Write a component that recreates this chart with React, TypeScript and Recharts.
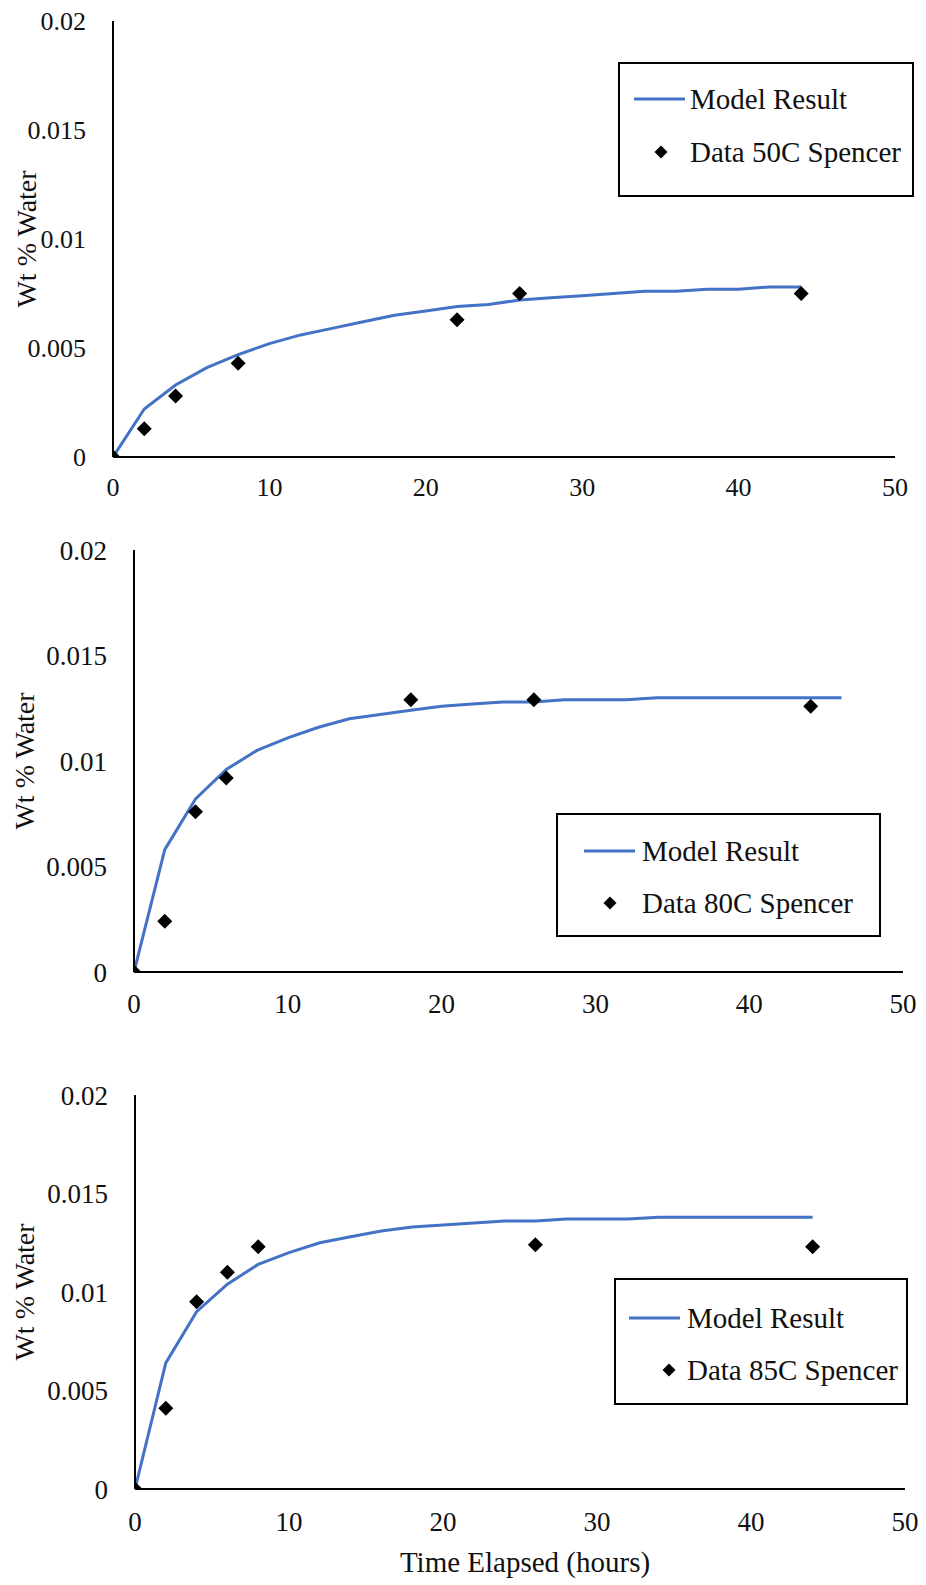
import React from 'react';
import { ComposedChart, Line, Scatter, XAxis, YAxis, Legend, Label } from 'recharts';

const xTicks = [0, 10, 20, 30, 40, 50];
const yTicks = [0, 0.005, 0.01, 0.015, 0.02];

const model50Hours = [0, 2, 4, 6, 8, 10, 12, 14, 16, 18, 20, 22, 24, 26, 28, 30, 32, 34, 36, 38, 40, 42, 44];
const model50 = [0, 0.0022, 0.0033, 0.0041, 0.0047, 0.0052, 0.0056, 0.0059, 0.0062, 0.0065, 0.0067, 0.0069, 0.007, 0.0072, 0.0073, 0.0074, 0.0075, 0.0076, 0.0076, 0.0077, 0.0077, 0.0078, 0.0078];
const model80Hours = [0, 2, 4, 6, 8, 10, 12, 14, 16, 18, 20, 22, 24, 26, 28, 30, 32, 34, 36, 38, 40, 42, 44, 46];
const model80 = [0, 0.0058, 0.0082, 0.0096, 0.0105, 0.0111, 0.0116, 0.012, 0.0122, 0.0124, 0.0126, 0.0127, 0.0128, 0.0128, 0.0129, 0.0129, 0.0129, 0.013, 0.013, 0.013, 0.013, 0.013, 0.013, 0.013];
const model85Hours = [0, 2, 4, 6, 8, 10, 12, 14, 16, 18, 20, 22, 24, 26, 28, 30, 32, 34, 36, 38, 40, 42, 44];
const model85 = [0, 0.0064, 0.009, 0.0104, 0.0114, 0.012, 0.0125, 0.0128, 0.0131, 0.0133, 0.0134, 0.0135, 0.0136, 0.0136, 0.0137, 0.0137, 0.0137, 0.0138, 0.0138, 0.0138, 0.0138, 0.0138, 0.0138];

const data50Hours = [0, 2, 4, 8, 22, 26, 44];
const data50 = [0, 0.0013, 0.0028, 0.0043, 0.0063, 0.0075, 0.0075];
const data80Hours = [0, 2, 4, 6, 18, 26, 44];
const data80 = [0, 0.0024, 0.0076, 0.0092, 0.0129, 0.0129, 0.0126];
const data85Hours = [0, 2, 4, 6, 8, 26, 44];
const data85 = [0, 0.0041, 0.0095, 0.011, 0.0123, 0.0124, 0.0123];

const FONT = '"Liberation Serif", "Times New Roman", serif';
const BLUE = '#4472C4';

const zip = (xs: number[], ys: number[]) => xs.map((x, i) => ({ x, y: ys[i] }));

const Diamond = (props: any) => {
  const { cx, cy } = props;
  const r = 7.5;
  return <polygon points={`${cx},${cy - r} ${cx + r},${cy} ${cx},${cy + r} ${cx - r},${cy}`} fill="#000" />;
};

type Cfg = {
  top: number;
  height: number;
  marginTop: number;
  yAxisWidth: number;
  marginRight: number;
  xAxisHeight: number;
  xTickMargin: number;
  tickFont: number;
  titleX: number;
  modelX: number[];
  model: number[];
  dataX: number[];
  dataY: number[];
  dataName: string;
  legend: { left: number; top: number; width: number; height: number; lineX: number; row1: number; row2: number; textX: number; diamondX: number };
  showXTitle?: boolean;
};

const LegendBox = ({ cfg }: { cfg: Cfg }) => {
  const L = cfg.legend;
  return (
    <div style={{ position: 'relative', width: L.width, height: L.height, border: '2px solid #000', boxSizing: 'border-box', background: '#fff', fontFamily: FONT, fontSize: 29, color: '#111' }}>
      <svg style={{ position: 'absolute', left: 0, top: 0 }} width={L.width} height={L.height}>
        <line x1={L.lineX} x2={L.lineX + 51} y1={L.row1} y2={L.row1} stroke={BLUE} strokeWidth={3} />
        <polygon points={`${L.diamondX},${L.row2 - 6.5} ${L.diamondX + 6.5},${L.row2} ${L.diamondX},${L.row2 + 6.5} ${L.diamondX - 6.5},${L.row2}`} fill="#000" />
      </svg>
      <div style={{ position: 'absolute', left: L.textX, top: L.row1 - 17, lineHeight: '34px', whiteSpace: 'nowrap', fontFamily: FONT }}>Model Result</div>
      <div style={{ position: 'absolute', left: L.textX, top: L.row2 - 17, lineHeight: '34px', whiteSpace: 'nowrap', fontFamily: FONT }}>{cfg.dataName}</div>
    </div>
  );
};

const YTitle = (props: any) => {
  const { viewBox, cx } = props;
  const y = viewBox.y + viewBox.height / 2;
  return (
    <text x={cx} y={y} transform={`rotate(-90, ${cx}, ${y})`} textAnchor="middle" dominantBaseline="central" fontFamily={FONT} fontSize={28} fill="#111">
      Wt % Water
    </text>
  );
};

const XTitle = (props: any) => {
  const { viewBox } = props;
  const x = viewBox.x + viewBox.width / 2 + 5;
  return (
    <text x={x} y={viewBox.y + 73} textAnchor="middle" dominantBaseline="central" fontFamily={FONT} fontSize={29} fill="#111">
      Time Elapsed (hours)
    </text>
  );
};

const Panel = ({ cfg }: { cfg: Cfg }) => {
  const lineData = zip(cfg.modelX, cfg.model);
  const pts = zip(cfg.dataX, cfg.dataY);
  const tickStyle = { fontFamily: FONT, fontSize: cfg.tickFont, fill: '#111' };
  return (
    <div style={{ position: 'absolute', left: 0, top: cfg.top, fontFamily: FONT }}>
      <ComposedChart width={926} height={cfg.height} margin={{ top: cfg.marginTop, right: cfg.marginRight, bottom: 0, left: 0 }} style={{ fontFamily: FONT }}>
        <XAxis
          type="number"
          dataKey="x"
          domain={[0, 50]}
          ticks={xTicks}
          allowDataOverflow
          tickLine={false}
          tickSize={0}
          tickMargin={cfg.xTickMargin}
          height={cfg.xAxisHeight}
          axisLine={{ stroke: '#000', strokeWidth: 2 }}
          tick={tickStyle}
          interval={0}
        >
          {cfg.showXTitle ? <Label content={<XTitle />} /> : null}
        </XAxis>
        <YAxis
          type="number"
          dataKey="y"
          domain={[0, 0.02]}
          ticks={yTicks}
          allowDataOverflow
          tickLine={false}
          tickSize={0}
          tickMargin={27}
          width={cfg.yAxisWidth}
          axisLine={{ stroke: '#000', strokeWidth: 2 }}
          tick={tickStyle}
          interval={0}
        >
          <Label content={<YTitle cx={cfg.titleX} />} />
        </YAxis>
        <Line data={lineData} dataKey="y" type="linear" stroke={BLUE} strokeWidth={3} dot={false} isAnimationActive={false} name="Model Result" />
        <Scatter data={pts} dataKey="y" fill="#000" shape={<Diamond />} isAnimationActive={false} name={cfg.dataName} />
        <Legend
          layout="vertical"
          align="center"
          verticalAlign="middle"
          wrapperStyle={{ left: cfg.legend.left, top: cfg.legend.top - cfg.top, width: cfg.legend.width, height: cfg.legend.height }}
          content={() => <LegendBox cfg={cfg} />}
        />
      </ComposedChart>
    </div>
  );
};

const cfg1: Cfg = {
  top: 0,
  height: 515,
  marginTop: 21,
  yAxisWidth: 113,
  marginRight: 31,
  xAxisHeight: 58,
  xTickMargin: 21,
  tickFont: 26,
  titleX: 26,
  modelX: model50Hours,
  model: model50,
  dataX: data50Hours,
  dataY: data50,
  dataName: 'Data 50C Spencer',
  legend: { left: 618, top: 62, width: 296, height: 135, lineX: 14, row1: 35, row2: 88, textX: 70, diamondX: 41 },
};

const cfg2: Cfg = {
  top: 515,
  height: 515,
  marginTop: 35,
  yAxisWidth: 134,
  marginRight: 23,
  xAxisHeight: 58,
  xTickMargin: 22,
  tickFont: 27,
  titleX: 24,
  modelX: model80Hours,
  model: model80,
  dataX: data80Hours,
  dataY: data80,
  dataName: 'Data 80C Spencer',
  legend: { left: 556, top: 813, width: 325, height: 124, lineX: 26, row1: 36, row2: 88, textX: 84, diamondX: 52 },
};

const cfg3: Cfg = {
  top: 1030,
  height: 555,
  marginTop: 65,
  yAxisWidth: 135,
  marginRight: 21,
  xAxisHeight: 96,
  xTickMargin: 23,
  tickFont: 27,
  titleX: 24,
  modelX: model85Hours,
  model: model85,
  dataX: data85Hours,
  dataY: data85,
  dataName: 'Data 85C Spencer',
  legend: { left: 614, top: 1278, width: 294, height: 127, lineX: 13, row1: 38, row2: 90, textX: 71, diamondX: 53 },
  showXTitle: true,
};

export default function App() {
  return (
    <div style={{ position: 'absolute', left: 0, top: 0, width: 926, height: 1585, background: '#fff', fontFamily: FONT }}>
      <Panel cfg={cfg1} />
      <Panel cfg={cfg2} />
      <Panel cfg={cfg3} />
    </div>
  );
}
